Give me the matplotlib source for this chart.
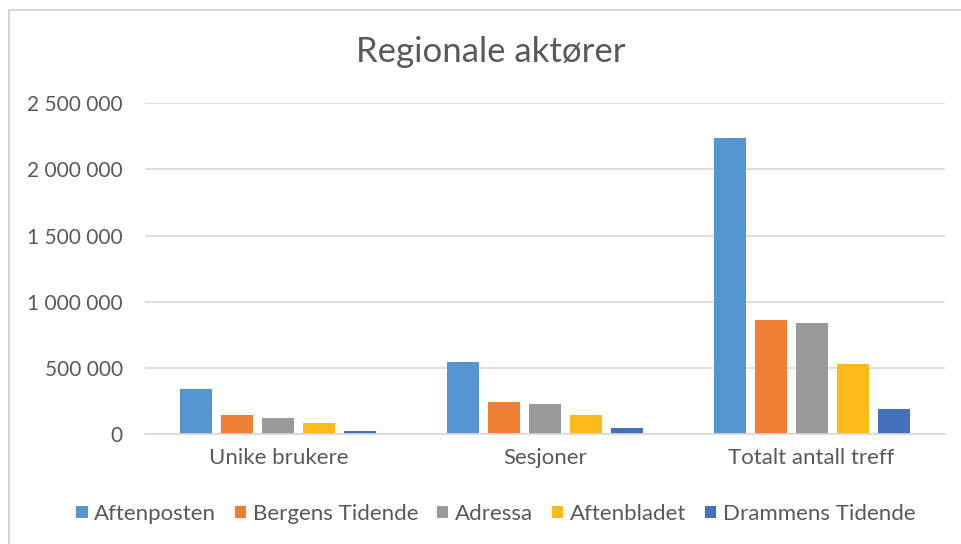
import matplotlib
matplotlib.use("Agg")
import matplotlib.pyplot as plt
import numpy as np
from matplotlib.patches import Rectangle
from matplotlib.ticker import FuncFormatter

plt.rcParams['font.family'] = ['Lato', 'DejaVu Sans']

categories = ["Unike brukere", "Sesjoner", "Totalt antall treff"]
series_names = ["Aftenposten", "Bergens Tidende", "Adressa", "Aftenbladet", "Drammens Tidende"]
aftenposten = [343000, 545000, 2239000]
bergens_tidende = [146000, 244000, 862000]
adressa = [126000, 227000, 842000]
aftenbladet = [83000, 144000, 534000]
drammens_tidende = [27000, 45000, 191000]
series_values = [aftenposten, bergens_tidende, adressa, aftenbladet, drammens_tidende]
colors = ["#5596D2", "#EF7F32", "#989A9A", "#FDBB17", "#4371BA"]
yticks = [0, 500000, 1000000, 1500000, 2000000, 2500000]

W, H = 961, 544
fig = plt.figure(figsize=(W / 100, H / 100), dpi=100)
fig.patch.set_facecolor("white")
fig.add_artist(Rectangle((9 / W, -0.01), 1.0, 1 - 10 / H + 0.01, transform=fig.transFigure,
                         fill=False, edgecolor="#D0D0D0", linewidth=1.2))

ax = fig.add_axes([145 / W, (H - 434.3) / H, 800 / W, (434.3 - 103) / H])
x = np.arange(len(categories))
step = 41 / 266.7
bw = 32 / 266.7
for i, (name, vals, c) in enumerate(zip(series_names, series_values, colors)):
    ax.bar(x + (i - 2) * step, vals, width=bw, color=c, label=name, zorder=3)

ax.set_xlim(-0.5, 2.5)
ax.set_ylim(0, 2500000)
ax.set_yticks(yticks)
ax.yaxis.set_major_formatter(FuncFormatter(lambda v, p: f"{int(v):,}".replace(",", " ")))
ax.grid(axis="y", color="#D9D9D9", linewidth=1.2, zorder=0)
for s in ["top", "right", "left"]:
    ax.spines[s].set_visible(False)
ax.spines["bottom"].set_color("#D9D9D9")
ax.spines["bottom"].set_linewidth(1.2)
ax.spines["bottom"].set_zorder(4)
ax.tick_params(axis="y", length=0, pad=16, labelsize=15, labelcolor="#595959")
ax.tick_params(axis="x", length=0, pad=10, labelsize=16, labelcolor="#595959")
ax.set_xticks(x)
ax.set_xticklabels(categories)

fig.text(491 / W, 1 - 52 / H, "Regionale aktører", ha="center", va="center",
         fontsize=25, color="#595959")

handles, labels = ax.get_legend_handles_labels()
fig.legend(handles, labels, loc="center", bbox_to_anchor=(496 / W, 1 - 514 / H), ncol=5,
           frameon=False, fontsize=16, labelcolor="#595959", handlelength=0.5,
           handleheight=0.5, handletextpad=0.3, columnspacing=0.85, borderaxespad=0)

fig.savefig("out.png", dpi=100, facecolor="white")
